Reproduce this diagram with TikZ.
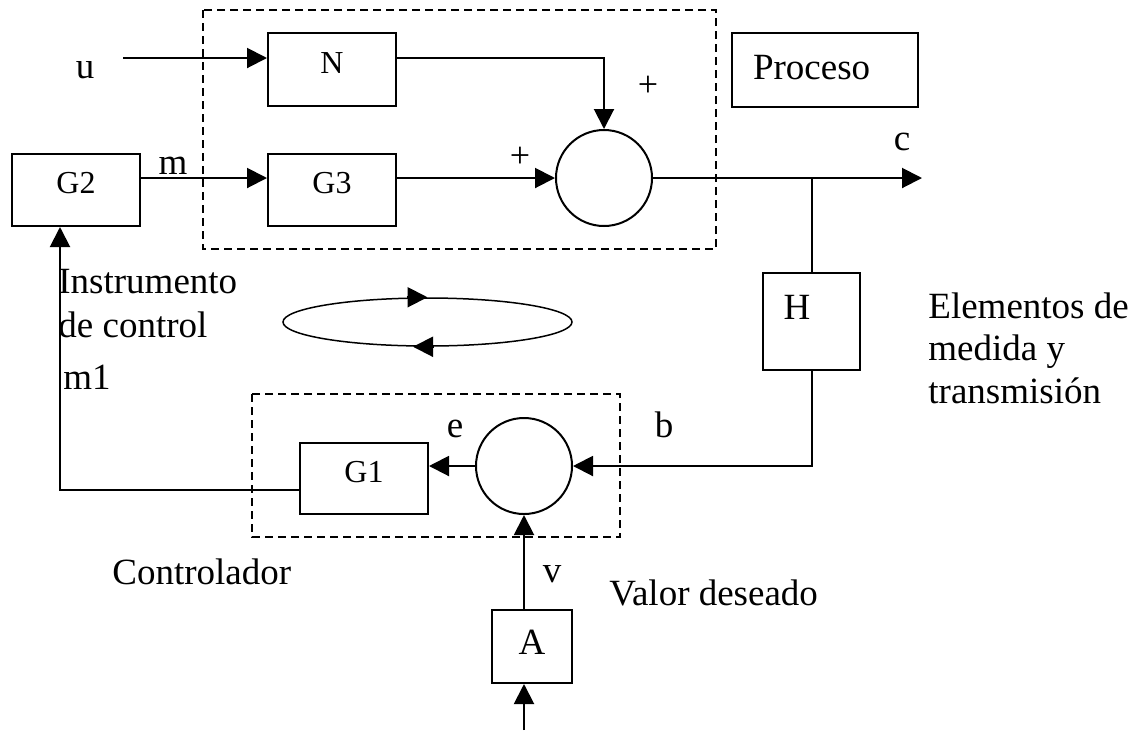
\documentclass[tikz,border=0pt]{standalone}
\usepackage{fontspec}
\setmainfont{Liberation Serif}
\usetikzlibrary{arrows.meta,shapes.geometric,calc}
\newcommand{\bigf}{\fontsize{18.5pt}{21pt}\selectfont}
\newcommand{\smf}{\fontsize{16pt}{18pt}\selectfont}
\newcommand{\plf}{\fontsize{18pt}{20pt}\selectfont}
\begin{document}
\begin{tikzpicture}[x=0.5pt,y=-0.5pt,
  box/.style={draw,line width=1pt,rectangle,inner sep=0pt},
  sbox/.style={box,font=\smf,text height=11pt,text depth=7.5pt,minimum width=64pt},
  sumc/.style={draw,circle,line width=1pt,minimum size=48pt,inner sep=0pt},
  lbl/.style={font=\bigf,inner sep=0pt,anchor=base},
  lblw/.style={lbl,anchor=base west},
  plus/.style={font=\plf,inner sep=0pt},
  ln/.style={line width=1pt},
  arr/.style={line width=1pt,-{Triangle[length=10pt,width=10pt]}},
  dbox/.style={draw,line width=0.75pt,dash pattern=on 4pt off 2.5pt}
]
\useasboundingbox (0,0) rectangle (1135,730);

% group frames
\draw[dbox] (203,10) rectangle (716,249);
\draw[dbox] (252,394) rectangle (620,537);

% blocks
\node[sbox,minimum height=36.5pt] (N) at (332,69.5) {N};
\node[sbox,minimum height=36pt] (G3) at (332,190) {G3};
\node[sbox,minimum height=36pt] (G2) at (76,190) {G2};
\node[sbox,minimum height=35.5pt] (G1) at (364,478.5) {G1};
\node[sumc] (S1) at (604,178) {};
\node[sumc] (S2) at (524,466) {};
\node[box,font=\bigf,minimum width=93pt,minimum height=37pt,text width=72pt,align=left,inner xsep=10.5pt,text depth=3pt] (P) at (825,70) {Proceso};
\node[box,minimum width=48.5pt,minimum height=48.5pt] (H) at (811.5,321.5) {};
\node[lbl] (Ht) at (797,319) {H};
\node[box,font=\bigf,minimum width=40pt,minimum height=36.5pt,text depth=4pt] (A) at (532,646.5) {A};
\node[draw,ellipse,minimum width=144.5pt,minimum height=24pt,inner sep=0pt,line width=0.75pt] (L) at (427.5,322) {};

% connectors
\coordinate (uin) at (123,58);
\draw[arr] (uin) -- (uin -| N.west);
\draw[arr] (N.east |- uin) -| (S1.north);
\draw[arr] (G2.east |- S1) -- (G3.west |- S1);
\draw[arr] (G3.east |- S1) -- (S1.west);
\coordinate (cout) at (922,178);
\coordinate (br) at (812,178);
\draw[arr] (S1.east) -- (cout);
\draw[ln] (br) -- (br |- H.north);
\draw[arr] (br |- H.south) |- (S2.east);
\draw[arr] (S2.west) -- (S2.west -| G1.east);
\coordinate (fb) at (60,490);
\draw[arr] (G1.west |- fb) -- (fb) -- (fb |- G2.south);
\draw[arr] (A.north -| S2) -- (S2.south);
\coordinate (ain) at (524,730);
\draw[arr] (ain) -- (ain |- A.south);

% loop arrows
\draw[arr] ($(L.north)+(-21,0)$) -- (L.north);
\draw[arr] ($(L.south)+(6.5,0)$) -- ($(L.south)+(-14.5,0)$);

% labels
\node[lbl] (u) at (85,78) {u};
\node[lbl] (m) at (173,174) {m};
\node[plus] (p1) at (648,86) {+};
\node[plus] (p2) at (520,157) {+};
\node[lbl] (c) at (902,150) {c};
\node[lblw] (ins) at (58,293) {Instrumento};
\node[lblw] (dec) at (58,337) {de control};
\node[lblw] (m1) at (63,389) {m1};
\node[lbl] (e) at (455,437) {e};
\node[lbl] (b) at (664,437) {b};
\node[lbl] (v) at (552,582) {v};
\node[lblw] (ctl) at (112,584) {Controlador};
\node[lblw] (val) at (609,605) {Valor deseado};
\node[lblw] (el1) at (928,318) {Elementos de};
\node[lblw] (el2) at (928,360) {medida y};
\node[lblw] (el3) at (928,403) {transmisión};
\end{tikzpicture}
\end{document}
